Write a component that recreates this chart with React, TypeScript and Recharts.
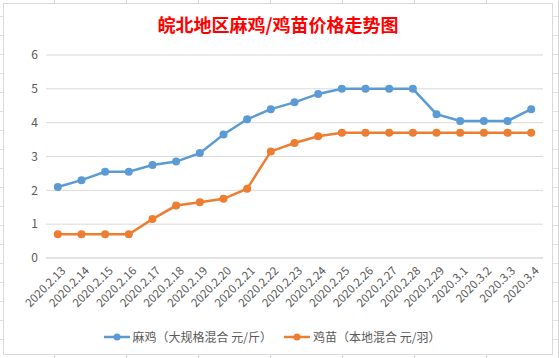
import { LineChart, Line, XAxis, YAxis, CartesianGrid, Legend } from 'recharts'

const dates = [
  '2020.2.13', '2020.2.14', '2020.2.15', '2020.2.16', '2020.2.17', '2020.2.18', '2020.2.19',
  '2020.2.20', '2020.2.21', '2020.2.22', '2020.2.23', '2020.2.24', '2020.2.25', '2020.2.26',
  '2020.2.27', '2020.2.28', '2020.2.29', '2020.3.1', '2020.3.2', '2020.3.3', '2020.3.4',
]
const maji = [2.1, 2.3, 2.55, 2.55, 2.75, 2.85, 3.1, 3.65, 4.1, 4.4, 4.6, 4.85, 5.0, 5.0, 5.0, 5.0, 4.25, 4.05, 4.05, 4.05, 4.4]
const jimiao = [0.7, 0.7, 0.7, 0.7, 1.15, 1.55, 1.65, 1.75, 2.05, 3.15, 3.4, 3.6, 3.7, 3.7, 3.7, 3.7, 3.7, 3.7, 3.7, 3.7, 3.7]
const yTicks = [0, 1, 2, 3, 4, 5, 6]

const series = [
  { key: 'maji', label: '麻鸡（大规格混合 元/斤）', color: '#5b9bd5' },
  { key: 'jimiao', label: '鸡苗（本地混合 元/羽）', color: '#ed7d31' },
]

const data = dates.map((d, i) => ({ date: d, maji: maji[i], jimiao: jimiao[i] }))

const FONT = '"Noto Sans CJK SC", "Noto Sans", sans-serif'
const TEXT = '#595959'

const DateTick = ({ x, y, payload }: { x?: number; y?: number; payload?: { value: string } }) => (
  <g transform={`translate(${(x ?? 0) + 5},${(y ?? 0) + 2})`}>
    <text
      transform="rotate(-45)"
      textAnchor="end"
      dominantBaseline="central"
      fontSize={11.5}
      fill={TEXT}
      fontFamily={FONT}
    >
      {payload?.value}
    </text>
  </g>
)

const LegendContent = () => (
  <div style={{ display: 'flex', justifyContent: 'center', gap: 12, paddingRight: 2 }}>
    {series.map((s) => (
      <div key={s.key} style={{ display: 'flex', alignItems: 'center', gap: 3 }}>
        <svg width={26} height={10}>
          <line x1={0} y1={5} x2={26} y2={5} stroke={s.color} strokeWidth={2.5} />
          <circle cx={13} cy={5} r={3.5} fill={s.color} />
        </svg>
        <span style={{ color: TEXT, fontSize: 12, fontFamily: FONT }}>{s.label}</span>
      </div>
    ))}
  </div>
)

export default function App() {
  return (
    <div
      style={{
        position: 'absolute',
        left: 0,
        top: 0,
        width: 559,
        height: 358,
        background: '#fff',
        backgroundImage:
          'repeating-linear-gradient(90deg, transparent 0 54px, #d4d4d4 54px 55px, transparent 55px 72px), repeating-linear-gradient(0deg, transparent 0 18px, #e0e0e0 18px 19px)',
      }}
    >
      <div
        style={{
          position: 'absolute',
          left: 3,
          top: 3,
          width: 550,
          height: 352,
          background: '#fff',
          border: '1px solid #d9d9d9',
          boxSizing: 'border-box',
        }}
      >
        <div
          style={{
            position: 'absolute',
            left: 0,
            width: '100%',
            top: 7,
            textAlign: 'center',
            color: '#ff0000',
            fontFamily: FONT,
            fontWeight: 'bold',
            fontSize: 18,
          }}
        >
          皖北地区麻鸡/鸡苗价格走势图
        </div>
        <LineChart
          width={550}
          height={350}
          data={data}
          margin={{ top: 51, right: 10, left: 0, bottom: 6 }}
          style={{ position: 'absolute', left: -1, top: 0 }}
        >
          <CartesianGrid vertical={false} stroke="#d9d9d9" />
          <XAxis
            dataKey="date"
            interval={0}
            axisLine={{ stroke: '#d9d9d9' }}
            tickLine={false}
            padding={{ left: 11.8, right: 11.8 }}
            height={70}
            tick={<DateTick />}
          />
          <YAxis
            domain={[0, 6]}
            ticks={yTicks}
            width={43}
            axisLine={false}
            tickLine={false}
            tick={{ fontSize: 12, fill: TEXT, fontFamily: FONT }}
          />
          <Legend verticalAlign="bottom" height={20} content={<LegendContent />} />
          {series.map((s) => (
            <Line
              key={s.key}
              type="linear"
              dataKey={s.key}
              name={s.label}
              stroke={s.color}
              strokeWidth={2.5}
              dot={{ r: 4, fill: s.color, stroke: s.color, strokeWidth: 0 }}
              isAnimationActive={false}
            />
          ))}
        </LineChart>
      </div>
    </div>
  )
}
